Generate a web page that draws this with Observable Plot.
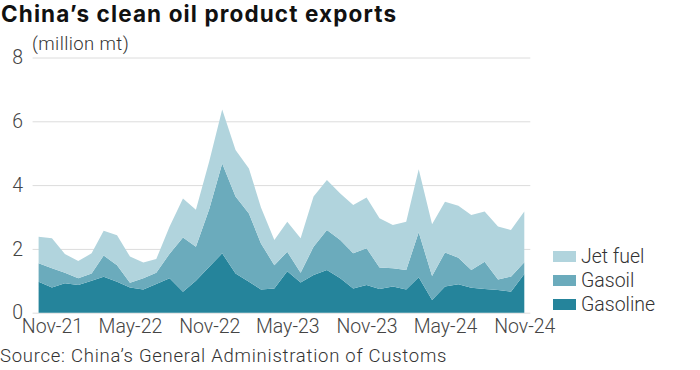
<!DOCTYPE html>
<html>
<head>
<meta charset="utf-8">
<script src="https://cdn.jsdelivr.net/npm/d3@7"></script>
<script src="https://cdn.jsdelivr.net/npm/@observablehq/plot@0.6"></script>
<style>
  html, body { margin: 0; padding: 0; background: #fff; }
  #wrap { position: relative; width: 700px; height: 370px; font-family: Roboto, "Noto Sans", sans-serif; color: #333; overflow: hidden; }
  #title { position: absolute; left: 1px; top: 0px; line-height: normal; font-family: Inter, Roboto, sans-serif; font-size: 22.5px; font-weight: 700; color: #111; white-space: nowrap; }
  #subtitle { position: absolute; left: 32px; top: 33px; font-size: 18.5px; font-weight: 300; color: #333; white-space: nowrap; }
  #source { position: absolute; left: 0px; top: 345px; font-size: 18.5px; font-weight: 300; color: #333; white-space: nowrap; }
  #legend { position: absolute; left: 553px; top: 244px; }
  .item { display: flex; align-items: center; height: 24px; font-size: 19.5px; font-weight: 300; color: #333; }
  .sw { width: 23px; height: 11px; margin-right: 5px; }
  #chart { position: absolute; left: 0; top: 0; }
</style>
</head>
<body>
<div id="wrap">
  <div id="chart"></div>
  <div id="title"></div>
  <div id="subtitle"></div>
  <div id="legend"></div>
  <div id="source"></div>
</div>
<script>
const titleText = "China\u2019s clean oil product exports";
const unitText = "(million mt)";
const sourceText = "Source: China\u2019s General Administration of Customs";

const months = [
  "2021-10","2021-11","2021-12",
  "2022-01","2022-02","2022-03","2022-04","2022-05","2022-06","2022-07","2022-08","2022-09","2022-10","2022-11","2022-12",
  "2023-01","2023-02","2023-03","2023-04","2023-05","2023-06","2023-07","2023-08","2023-09","2023-10","2023-11","2023-12",
  "2024-01","2024-02","2024-03","2024-04","2024-05","2024-06","2024-07","2024-08","2024-09","2024-10","2024-11"
];

const seriesNames = ["Gasoline", "Gasoil", "Jet fuel"];
const seriesColors = ["#25849b", "#6babbc", "#b1d4dd"];

const gasoline = [0.97,0.79,0.92,0.87,1.00,1.13,0.97,0.79,0.73,0.90,1.08,0.66,1.00,1.44,1.86,1.23,0.97,0.73,0.76,1.30,0.95,1.18,1.34,1.08,0.76,0.87,0.74,0.82,0.73,1.11,0.40,0.82,0.89,0.78,0.74,0.71,0.66,1.21];
const gasoil   = [0.58,0.60,0.33,0.21,0.23,0.66,0.52,0.15,0.35,0.35,0.77,1.70,1.07,1.81,2.82,2.41,2.14,1.44,0.73,0.61,0.30,0.89,1.25,1.20,1.10,1.15,0.68,0.57,0.61,1.41,0.75,1.07,0.83,0.56,0.86,0.33,0.47,0.37];
const jetFuel  = [0.83,0.94,0.59,0.54,0.63,0.78,0.94,0.82,0.49,0.43,0.85,1.22,1.16,1.50,1.69,1.46,1.41,1.13,0.79,0.94,1.08,1.57,1.57,1.46,1.52,1.59,1.54,1.36,1.51,1.98,1.62,1.59,1.63,1.72,1.57,1.66,1.46,1.59];

const xTickMonths = ["2021-11","2022-05","2022-11","2023-05","2023-11","2024-05","2024-11"];
const yTicks = [0, 2, 4, 6, 8];

const parse = d3.utcParse("%Y-%m");
const seriesValues = [gasoline, gasoil, jetFuel];
const data = [];
seriesNames.forEach((name, k) => {
  months.forEach((m, i) => data.push({date: parse(m), type: name, value: seriesValues[k][i]}));
});

const chart = Plot.plot({
  width: 700,
  height: 370,
  marginLeft: 38.6,
  marginRight: 175.7,
  marginTop: 57.5,
  marginBottom: 57.3,
  style: {fontFamily: "Roboto, 'Noto Sans', sans-serif", fontSize: "19.5px", color: "#444", fontWeight: 300, background: "transparent"},
  x: {type: "utc", domain: [parse(months[0]), parse(months[months.length - 1])], label: null},
  y: {domain: [0, 8], label: null},
  color: {domain: seriesNames, range: seriesColors},
  marks: [
    Plot.ruleY(yTicks, {stroke: "#dcdcdc", strokeWidth: 1, insetLeft: -6, insetRight: -6}),
    Plot.areaY(data, {x: "date", y: "value", fill: "type", order: seriesNames}),
    Plot.axisX({ticks: xTickMonths.map(parse), tickFormat: d3.utcFormat("%b-%y"), tickSize: 0, tickPadding: 6, label: null}),
    Plot.axisY({ticks: yTicks, tickSize: 0, tickPadding: 16, label: null})
  ]
});
document.getElementById("chart").appendChild(chart);

function fitWidth(el, text, target) {
  el.textContent = text;
  const w = el.getBoundingClientRect().width;
  const n = text.length;
  const ls = (target - w) / n;
  el.style.letterSpacing = ls.toFixed(2) + "px";
}
fitWidth(document.getElementById("title"), titleText, 396);
fitWidth(document.getElementById("subtitle"), unitText, 97);
fitWidth(document.getElementById("source"), sourceText, 447);

const legend = document.getElementById("legend");
[2, 1, 0].forEach(k => {
  const item = document.createElement("div");
  item.className = "item";
  const sw = document.createElement("div");
  sw.className = "sw";
  sw.style.background = seriesColors[k];
  const lab = document.createElement("span");
  lab.textContent = seriesNames[k];
  item.appendChild(sw);
  item.appendChild(lab);
  legend.appendChild(item);
});
</script>
</body>
</html>
